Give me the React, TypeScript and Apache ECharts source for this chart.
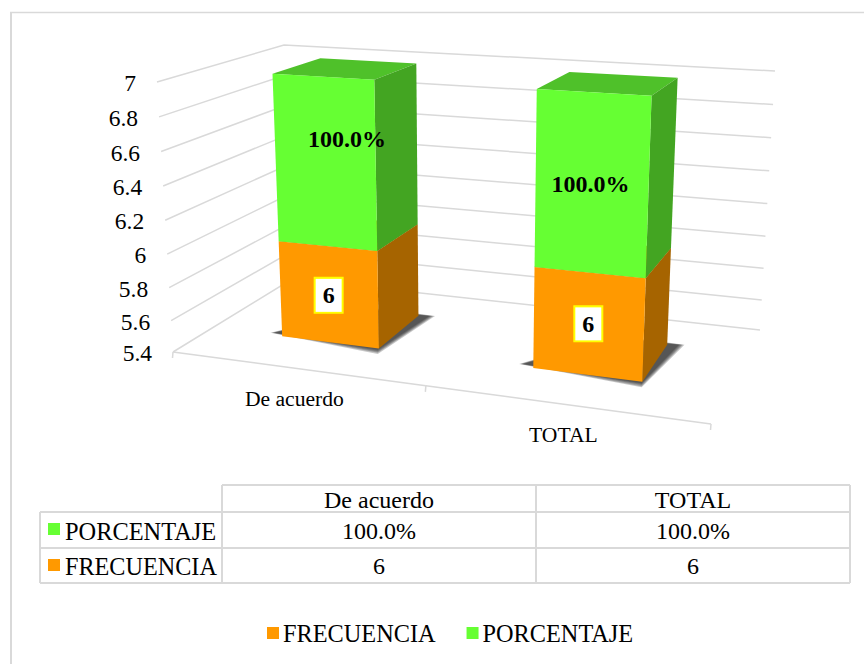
import React, { useEffect, useRef } from "react";
import * as echarts from "echarts";

const categories = ["De acuerdo", "TOTAL"];
const frecuencia = [6, 6];
const porcentaje = [1, 1];
const porcentajeText = ["100.0%", "100.0%"];
const frecuenciaText = ["6", "6"];
const yTicks = [5.4, 5.6, 5.8, 6, 6.2, 6.4, 6.6, 6.8, 7];
const yTickLabels = ["5.4", "5.6", "5.8", "6", "6.2", "6.4", "6.6", "6.8", "7"];

const AXIS_MIN = 5.4;
const AXIS_MAX = 7;
const SERIF = "'Liberation Serif', 'Times New Roman', serif";
const GRID_COLOR = "#d9d9d9";
const GREEN = { front: "#66ff33", top: "#4fc12a", side: "#43a522" };
const ORANGE = { front: "#ff9900", top: "#b06c00", side: "#a66400" };

// Perspective box of the chart: the flat grid is projected on to it.
const BOX = {
  flb: [173, 352], frb: [711, 424], blb: [292, 279], brb: [760, 330],
  flt: [157, 82], frt: [724, 116], blt: [284, 45], brt: [775, 71],
};
const BAR_HALF = 0.2;
const DEPTH_FRONT = 0.335;
const DEPTH_BACK = 0.745;

const mix = (a: number[], b: number[], t: number) => [a[0] + (b[0] - a[0]) * t, a[1] + (b[1] - a[1]) * t];

function projector(api: any) {
  const o = api.coord([0, AXIS_MIN]);
  const e = api.coord([2, AXIS_MAX]);
  return (x: number, value: number, depth: number) => {
    const c = api.coord([x, value]);
    const r = (c[0] - o[0]) / (e[0] - o[0]);
    const s = (c[1] - o[1]) / (e[1] - o[1]);
    const u = r - 0.12 * r * (1 - r);
    const v = Math.pow(Math.max(s, 0), 1.035);
    const bottom = mix(mix(BOX.flb, BOX.frb, u), mix(BOX.blb, BOX.brb, u), depth);
    const top = mix(mix(BOX.flt, BOX.frt, u), mix(BOX.blt, BOX.brt, u), depth);
    return mix(bottom, top, v);
  };
}

const poly = (points: number[][], fill: string, extra: any = {}) => ({
  type: "polygon",
  shape: { points },
  style: { fill, stroke: null, ...extra },
  silent: true,
});

// Soft contact shadow: a stack of translucent outlines around the bar's foot.
const SHADOW_LAYERS = [1.5, 1.1, 0.75, 0.4, 0.1];

function barItem(colors: typeof GREEN, withShadow: boolean, labelFor: (i: number) => any) {
  return (params: any, api: any) => {
    const P = projector(api);
    const i = api.value(0);
    const lo = api.value(1);
    const hi = api.value(2);
    const x = i + 0.5;
    const x0 = x - BAR_HALF;
    const x1 = x + BAR_HALF;
    const children: any[] = [];
    if (withShadow) {
      SHADOW_LAYERS.forEach((k) => {
        const a = P(x0 - 0.045, lo, DEPTH_FRONT + 0.03);
        const b = P(x1 + 0.0, lo, DEPTH_FRONT - 0.012);
        const c = P(x1 + 0.04, lo, DEPTH_BACK + 0.012);
        const d = P(x0 + 0.2, lo, DEPTH_BACK);
        children.push(
          poly(
            [
              [a[0] - 3 * k, a[1]],
              [b[0], b[1] + 3 * k],
              [c[0] + 4 * k, c[1]],
              [d[0], d[1] - 2 * k],
            ],
            "rgba(40,40,40,0.26)"
          )
        );
      });
    }
    children.push(poly([P(x0, hi, DEPTH_FRONT), P(x1, hi, DEPTH_FRONT), P(x1, hi, DEPTH_BACK), P(x0, hi, DEPTH_BACK)], colors.top));
    children.push(poly([P(x1, lo, DEPTH_FRONT), P(x1, lo, DEPTH_BACK), P(x1, hi, DEPTH_BACK), P(x1, hi, DEPTH_FRONT)], colors.side));
    children.push(poly([P(x0, lo, DEPTH_FRONT), P(x1, lo, DEPTH_FRONT), P(x1, hi, DEPTH_FRONT), P(x0, hi, DEPTH_FRONT)], colors.front));
    const centre = P(x, (lo + hi) / 2, DEPTH_FRONT);
    children.push(labelFor(i)(centre));
    return { type: "group", children };
  };
}

const buildOption = () => {
  const text = (t: string, x: number, y: number, align = "center", fontSize = 24) => ({
    type: "text",
    silent: true,
    style: { text: t, x, y, align, verticalAlign: "middle", fontSize, fontFamily: SERIF, fill: "#000" },
  });
  const hLine = (x1: number, x2: number, y: number, lineWidth = 2) => ({
    type: "line",
    silent: true,
    shape: { x1, y1: y, x2, y2: y },
    style: { stroke: GRID_COLOR, lineWidth },
  });
  const vLine = (x: number, y1: number, y2: number, lineWidth = 2) => ({
    type: "line",
    silent: true,
    shape: { x1: x, y1, x2: x, y2 },
    style: { stroke: GRID_COLOR, lineWidth },
  });
  const swatch = (x: number, y: number, fill: string) => ({
    type: "rect",
    silent: true,
    shape: { x, y, width: 12, height: 12 },
    style: { fill },
  });
  const colX = [40, 222, 536, 850];
  const rowY = [485, 512, 548, 583];

  const tableElements: any[] = [
    hLine(10, 864, 12.5, 1.5),
    vLine(11, 12, 664, 2),
    hLine(colX[1], colX[3], rowY[0]),
    hLine(colX[0], colX[3], rowY[1]),
    hLine(colX[0], colX[3], rowY[2]),
    hLine(colX[0], colX[3], rowY[3]),
    vLine(colX[0], rowY[1], rowY[3]),
    vLine(colX[1], rowY[0], rowY[3]),
    vLine(colX[2], rowY[0], rowY[3]),
    vLine(colX[3], rowY[0], rowY[3]),
    swatch(48, 523, GREEN.front),
    swatch(48, 559, ORANGE.front),
    text("PORCENTAJE", 65, 531, "left", 24.4),
    text("FRECUENCIA", 65, 566, "left", 24.2),
  ];
  categories.forEach((c, i) => {
    const cx = (colX[i + 1] + colX[i + 2]) / 2;
    tableElements.push(text(c, cx, 500), text(porcentajeText[i], cx, 531), text(frecuenciaText[i], cx, 566));
  });

  const greenLabel = (i: number) => (c: number[]) => ({
    type: "text",
    silent: true,
    style: {
      text: porcentajeText[i],
      x: c[0] + (i === 0 ? 22 : -1),
      y: c[1] + (i === 0 ? -23 : 1),
      align: "center",
      verticalAlign: "middle",
      fontSize: 24,
      fontWeight: "bold",
      fontFamily: SERIF,
      fill: "#000",
    },
  });
  const orangeLabel = (i: number) => (c: number[]) => ({
    type: "text",
    silent: true,
    style: {
      text: frecuenciaText[i],
      x: c[0],
      y: c[1] - (i === 0 ? 0 : 1),
      align: "center",
      verticalAlign: "middle",
      fontSize: 24,
      fontWeight: "bold",
      fontFamily: SERIF,
      fill: "#000",
      backgroundColor: "#ffffff",
      borderColor: "#ffff00",
      borderWidth: 2,
      padding: [5, 7, 4, 7],
    },
  });

  return {
    animation: false,
    backgroundColor: "#ffffff",
    grid: { left: 100, right: 100, top: 100, bottom: 200 },
    xAxis: { type: "value", min: 0, max: 2, show: false },
    yAxis: { type: "value", min: AXIS_MIN, max: AXIS_MAX, interval: 0.2, show: false },
    tooltip: { show: false },
    legend: {
      data: [
        { name: "FRECUENCIA", icon: "rect" },
        { name: "PORCENTAJE", icon: "rect" },
      ],
      left: 267,
      top: 621,
      padding: 0,
      itemWidth: 12,
      itemHeight: 12,
      itemGap: 31,
      selectedMode: false,
      textStyle: { fontFamily: SERIF, fontSize: 24.3, color: "#000", padding: [0, 0, 0, -1] },
    },
    graphic: { elements: tableElements },
    series: [
      {
        type: "custom",
        name: "_walls",
        silent: true,
        coordinateSystem: "cartesian2d",
        data: yTicks.map((t, i) => [i, t]),
        renderItem: (params: any, api: any) => {
          const P = projector(api);
          const i = api.value(0);
          const t = api.value(1);
          const a = P(0, t, 0);
          const b = P(0, t, 1);
          const c = P(2, t, 1);
          return {
            type: "group",
            children: [
              { type: "polyline", silent: true, shape: { points: [a, b, c] }, style: { stroke: GRID_COLOR, lineWidth: 1.5, fill: null } },
              {
                type: "text",
                silent: true,
                style: {
                  text: yTickLabels[i],
                  x: a[0] - 21,
                  y: a[1] + 1,
                  align: "right",
                  verticalAlign: "middle",
                  fontSize: 23.5,
                  fontFamily: SERIF,
                  fill: "#000",
                },
              },
            ],
          };
        },
      },
      {
        type: "custom",
        name: "_floor",
        silent: true,
        coordinateSystem: "cartesian2d",
        data: [0, 1, 2].map((x) => [x, AXIS_MIN]),
        renderItem: (params: any, api: any) => {
          const P = projector(api);
          const x = api.value(0);
          const p = P(x, AXIS_MIN, 0);
          const children: any[] = [
            { type: "line", silent: true, shape: { x1: p[0], y1: p[1], x2: p[0] - 0.5, y2: p[1] + 6 }, style: { stroke: GRID_COLOR, lineWidth: 1.5 } },
          ];
          if (x < 2) {
            const q = P(x + 1, AXIS_MIN, 0);
            children.push({ type: "line", silent: true, shape: { x1: p[0], y1: p[1], x2: q[0], y2: q[1] }, style: { stroke: GRID_COLOR, lineWidth: 1.5 } });
          }
          return { type: "group", children };
        },
      },
      {
        type: "custom",
        name: "_categories",
        silent: true,
        coordinateSystem: "cartesian2d",
        data: categories.map((_, i) => [i]),
        renderItem: (params: any, api: any) => {
          const P = projector(api);
          const i = api.value(0);
          const p = P(i + 0.5, AXIS_MIN, 0);
          return {
            type: "text",
            silent: true,
            style: { text: categories[i], x: p[0] - 1, y: p[1] + 31, align: "center", verticalAlign: "middle", fontSize: 21.6, fontFamily: SERIF, fill: "#000" },
          };
        },
      },
      {
        type: "custom",
        name: "FRECUENCIA",
        coordinateSystem: "cartesian2d",
        itemStyle: { color: ORANGE.front },
        data: frecuencia.map((v, i) => [i, AXIS_MIN, v]),
        renderItem: barItem(ORANGE, true, orangeLabel),
      },
      {
        type: "custom",
        name: "PORCENTAJE",
        coordinateSystem: "cartesian2d",
        itemStyle: { color: GREEN.front },
        data: porcentaje.map((v, i) => [i, frecuencia[i], frecuencia[i] + v]),
        renderItem: barItem(GREEN, false, greenLabel),
      },
    ],
  };
};

export default function App() {
  const ref = useRef<HTMLDivElement>(null);
  useEffect(() => {
    document.body.style.margin = "0";
    const chart = echarts.init(ref.current!, undefined, { renderer: "svg" });
    chart.setOption(buildOption() as any);
    return () => chart.dispose();
  }, []);
  return <div ref={ref} style={{ width: 864, height: 664 }} />;
}
